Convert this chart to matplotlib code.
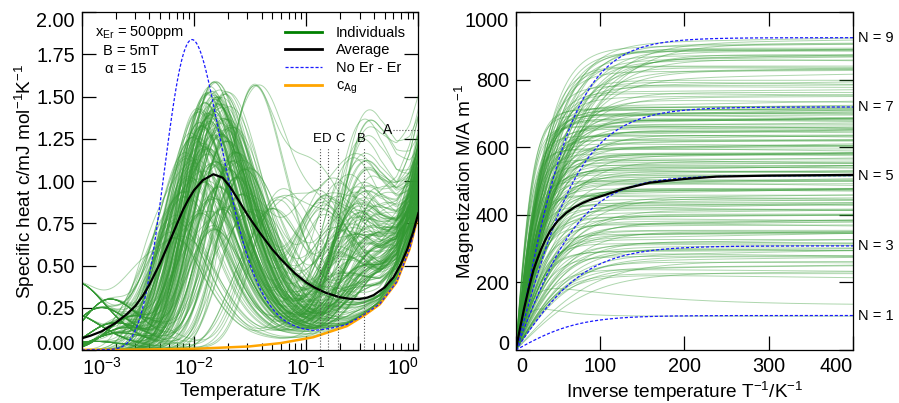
import numpy as np
import matplotlib.pyplot as plt
from matplotlib.lines import Line2D
from matplotlib.ticker import FixedLocator, LogLocator, NullFormatter
import matplotlib.transforms as mtransforms

plt.rcParams['font.family'] = ['Liberation Sans', 'DejaVu Sans']
plt.rcParams['mathtext.fontset'] = 'custom'
plt.rcParams['mathtext.rm'] = 'Liberation Sans'
plt.rcParams['mathtext.it'] = 'Liberation Sans:italic'
plt.rcParams['mathtext.default'] = 'regular'

# ---------------- left panel data (specific heat) ----------------
# silver background c_Ag
ag_T = [1e-3, 3e-3, 0.01, 0.03, 0.0583, 0.115, 0.229, 0.322, 0.453, 0.638, 0.838, 1.0]
ag_c = [0.0007, 0.002, 0.007, 0.02, 0.04, 0.075, 0.14, 0.2, 0.27, 0.4, 0.6, 0.8]

# "No Er - Er" : single two-level peak (position, height) on top of c_Ag
noer_peak_T = 0.0096
noer_peak_c = 1.83

# average curve
avg_T = [1.0e-3, 1.2e-3, 1.5e-3, 2e-3, 2.5e-3, 3e-3, 3.5e-3, 4e-3, 5e-3, 6e-3, 7e-3, 8e-3,
         9e-3, 0.010, 0.012, 0.0149, 0.018, 0.021, 0.025, 0.03, 0.035, 0.04, 0.05, 0.06,
         0.07, 0.08, 0.1, 0.12, 0.15, 0.2, 0.25, 0.3, 0.35, 0.4, 0.5, 0.6, 0.7, 0.8, 0.9, 1.0]
avg_c = [0.069, 0.085, 0.11, 0.16, 0.21, 0.26, 0.32, 0.385, 0.515, 0.635, 0.74, 0.83,
         0.895, 0.945, 1.005, 1.04, 1.02, 0.965, 0.885, 0.80, 0.735, 0.68, 0.595, 0.535,
         0.49, 0.452, 0.40, 0.368, 0.338, 0.312, 0.302, 0.302, 0.31, 0.325, 0.37, 0.43,
         0.51, 0.6, 0.7, 0.81]

# individuals: main peak positions / heights, peak broadening
main_tp = [0.0125, 0.0140, 0.0150, 0.0135, 0.0160, 0.0118, 0.0170, 0.0145, 0.0110, 0.0180,
           0.0130, 0.0155, 0.0100, 0.0190, 0.0205, 0.0120, 0.0165, 0.0090, 0.0220, 0.0140,
           0.0080, 0.0240, 0.0115, 0.0175, 0.0070, 0.0260, 0.0340, 0.0150, 0.0065, 0.0300,
           0.0280, 0.0128, 0.0148, 0.0138, 0.0158, 0.0108, 0.0185, 0.0095, 0.0200, 0.0560,
           0.0132, 0.0162, 0.0122, 0.0172, 0.0143, 0.0085, 0.0230, 0.0480, 0.0112, 0.0152]
main_h = [1.45, 1.52, 1.57, 1.38, 1.48, 1.30, 1.42, 1.25, 1.20, 1.35,
          1.15, 1.10, 1.05, 1.22, 1.30, 0.98, 0.95, 1.00, 1.10, 0.88,
          0.90, 1.00, 0.80, 0.82, 0.75, 0.90, 1.54, 0.70, 0.65, 0.80,
          1.05, 1.50, 1.40, 1.33, 1.28, 1.40, 1.50, 1.25, 1.05, 0.85,
          1.36, 1.44, 1.18, 1.26, 1.08, 1.12, 1.15, 0.80, 1.32, 1.47]
main_w = [1.0, 1.15, 1.3, 1.08, 1.45, 1.2, 1.05, 1.6, 1.1, 1.35, 1.25]
# low temperature shoulder
low_tp = [0.0008, 0.0012, 0.0015, 0.0020, 0.0010, 0.0025, 0.0018, 0.0006, 0.0030, 0.0013, 0.0040, 0.0009, 0.0022]
low_h = [0.22, 0.00, 0.25, 0.16, 0.00, 0.13, 0.30, 0.00, 0.20, 0.05, 0.00, 0.40, 0.10]
# bumps between 0.1 K and 0.5 K
high_tp = [0.10, 0.20, 0.15, 0.25, 0.12, 0.30, 0.14, 0.35, 0.20, 0.18, 0.33, 0.09, 0.25, 0.28, 0.40, 0.10, 0.22]
high_h = [0.00, 0.30, 0.00, 0.50, 0.15, 0.00, 0.70, 0.25, 0.00, 0.45, 0.85, 0.10, 0.00, 0.60, 0.35, 0.00, 0.20]
mid_tp = [0.40, 0.22, 0.42, 0.3, 0.16, 0.45, 0.38, 0.26, 0.36, 0.19, 0.42, 0.3, 0.33, 0.24, 0.44, 0.28, 0.36, 0.45, 0.2]
mid_h = [0.25, 0.00, 0.30, 0.15, 0.00, 0.20, 0.35, 0.00, 0.20, 0.10, 0.30, 0.00, 0.45, 0.05, 0.00, 0.30, 0.20, 0.00, 0.40]
# extra rise near 1 K
edge_h = [0.00, 0.10, 0.25, 0.00, 0.45, 0.15, 0.05]
n_left = 200

# marker lines E D C B and A
mark_T = [0.134, 0.157, 0.193, 0.326]
mark_lab = ['E', 'D', 'C', 'B']
mark_lab_T = [0.1259, 0.1525, 0.2018, 0.313]

# ---------------- right panel data (magnetization) ----------------
n_labels = [1, 3, 5, 7, 9]
n_sat = [102, 308, 516, 719, 924]
n_x0 = [75, 85, 80, 80, 72]

avg_x = [0, 5, 10, 15, 20.9, 25, 30, 35, 40.7, 50, 60, 70, 80, 88, 100, 125, 159, 200, 238, 300, 400]
avg_M = [0, 64, 124, 178, 236, 265, 298, 325, 352, 383, 406, 423, 436, 444, 454, 475, 495, 506, 513, 516, 518]

sat = [905, 893, 880, 868, 855, 840, 822, 798, 781, 762, 745, 718, 712, 706, 699,
       692, 684, 676, 668, 660, 651, 642, 633, 622, 612, 601, 592, 583, 574, 565,
       556, 546, 536, 527, 518, 508, 499, 489, 478, 468, 458, 447, 436, 425, 414,
       402, 391, 379, 367, 354, 340, 327, 314, 302, 290, 276, 262, 241, 226]
sat_x0 = [62, 58, 60, 55, 57, 52, 50, 48, 45, 47, 42, 36, 30, 40, 33,
          28, 38, 31, 44, 27, 35, 41, 29, 37, 32, 43, 26, 34, 39, 30,
          45, 28, 36, 41, 33, 38, 29, 46, 35, 40, 31, 48, 37, 34, 50,
          42, 36, 55, 39, 47, 44, 52, 38, 60, 45, 50, 65, 58, 70]
x0_mult = [1.0, 0.75, 1.3, 0.9, 1.15, 0.8, 1.45]
drift = [0, 12, -8, 5, 18, -4, 8, -12, 3, 0, 10]
n_right = 180
# curves that overshoot and relax
os_a = [201, 150]
os_x0 = [20, 15]
os_b = [68, 50]
os_x1 = [200, 60]


def schottky(T, tp):
    x = 2.3994 * tp / T
    e = np.exp(-x)
    return x ** 2 * e / (1 + e) ** 2 / 0.43922


T = np.logspace(-3, 0, 500)
cag = np.interp(np.log10(T), np.log10(ag_T), ag_c)

fig = plt.figure(figsize=(8.99, 4.03), dpi=100)
ax1 = fig.add_axes([0.0909, 0.1315, 0.3745, 0.8387])
ax2 = fig.add_axes([0.5737, 0.1315, 0.3752, 0.8387])

green = '#339933'
for i in range(n_left):
    tp = main_tp[i % len(main_tp)]
    w = main_w[i % len(main_w)]
    shape = schottky(T, tp / w) + schottky(T, tp * w)
    main = main_h[i % len(main_h)] * shape / shape.max()
    c = cag + main
    c = c + low_h[i % len(low_h)] * schottky(T, low_tp[i % len(low_tp)])
    c = c + high_h[i % len(high_h)] * schottky(T, high_tp[i % len(high_tp)])
    c = c + mid_h[i % len(mid_h)] * schottky(T, mid_tp[i % len(mid_tp)])
    c = c + edge_h[i % len(edge_h)] * schottky(T, 1.5)
    ax1.plot(T, c, color=green, lw=0.7, alpha=0.4)

ax1.plot(T, cag, color='orange', lw=1.8)
ax1.plot(T, noer_peak_c * schottky(T, noer_peak_T) + cag, color='#1a1aff', lw=0.9,
         dashes=(2.5, 1.5))
ax1.plot(avg_T, avg_c, color='black', lw=1.6)

for t, tl, lab in zip(mark_T, mark_lab_T, mark_lab):
    ax1.plot([t, t], [0, 1.2], color='#555555', lw=0.8, ls=':')
    ax1.text(tl, 1.25, lab, ha='center', va='center', fontsize=9.5)
ax1.plot([0.6, 1.0], [1.30, 1.30], color='#555555', lw=0.8, ls=':')
ax1.text(0.58, 1.30, 'A', ha='right', va='center', fontsize=10)

ax1.set_xscale('log')
ax1.set_xlim(1e-3, 1.0)
ax1.set_ylim(0, 2.0)
ax1.yaxis.set_major_locator(FixedLocator(np.arange(0, 2.01, 0.25)))
ax1.set_yticklabels(['%.2f' % v for v in np.arange(0, 2.01, 0.25)])
ax1.set_xticks([1e-3, 1e-2, 1e-1, 1])
ax1.set_xticklabels(['$10^{-3}$', '$10^{-2}$', '$10^{-1}$', '$10^{0}$'])
ax1.xaxis.set_minor_locator(LogLocator(base=10, subs=np.arange(2, 10), numticks=20))
ax1.xaxis.set_minor_formatter(NullFormatter())
ax1.set_xlabel('Temperature T/K', fontsize=13.7)
ax1.set_ylabel('Specific heat c/mJ mol$^{-1}$K$^{-1}$', fontsize=13.7)

ax1.text(0.04, 0.94, 'x$_{Er}$ = 500ppm', transform=ax1.transAxes, fontsize=10.5, va='center')
ax1.text(0.063, 0.886, 'B = 5mT', transform=ax1.transAxes, fontsize=10.5, va='center')
ax1.text(0.069, 0.832, 'α = 15', transform=ax1.transAxes, fontsize=10.5, va='center')

handles = [Line2D([], [], color='green', lw=2),
           Line2D([], [], color='black', lw=2),
           Line2D([], [], color='#1a1aff', lw=0.9, dashes=(2.5, 1.5)),
           Line2D([], [], color='orange', lw=2)]
ax1.legend(handles, ['Individuals', 'Average', 'No Er - Er', 'c$_{Ag}$'], loc='upper right',
           bbox_to_anchor=(0.988, 0.985),
           frameon=False, fontsize=10.5, handlelength=2.6, labelspacing=0.25,
           borderaxespad=0.2, handletextpad=0.9)

# ---------------- right panel ----------------
x = np.linspace(0, 400, 400)
for i in range(n_right):
    ms = sat[i % len(sat)]
    x0 = sat_x0[i % len(sat)] * x0_mult[i % len(x0_mult)]
    m = ms * np.tanh(x / x0) + drift[i % len(drift)] * x / 400
    ax2.plot(x, m, color=green, lw=0.7, alpha=0.4)
for a, x0, b, x1 in zip(os_a, os_x0, os_b, os_x1):
    ax2.plot(x, a * np.tanh(x / x0) - b * np.tanh(x / x1), color=green, lw=0.7, alpha=0.4)

for ms, x0 in zip(n_sat, n_x0):
    ax2.plot(x, ms * np.tanh(x / x0), color='#1a1aff', lw=0.9, dashes=(2.5, 1.5))
ax2.plot(avg_x, avg_M, color='black', lw=1.6)

trans = mtransforms.blended_transform_factory(ax2.transAxes, ax2.transData)
for n, ms in zip(n_labels, n_sat):
    ax2.text(1.015, ms, 'N = %d' % n, transform=trans, fontsize=10.5, va='center', ha='left')

ax2.set_xlim(0, 400)
ax2.set_ylim(0, 1000)
ax2.set_xticks([0, 100, 200, 300, 400])
ax2.set_yticks([0, 200, 400, 600, 800, 1000])
ax2.set_xlabel('Inverse temperature T$^{-1}$/K$^{-1}$', fontsize=13.7)
ax2.set_ylabel('Magnetization M/A m$^{-1}$', fontsize=13.7)

for ax in (ax1, ax2):
    ax.tick_params(which='major', direction='in', length=10, width=0.9, top=True, right=True,
                   labelsize=14.3, pad=5)
    ax.tick_params(which='minor', direction='in', length=5, width=0.8, top=True, right=True)
    for s in ax.spines.values():
        s.set_linewidth(0.9)
    # end labels pulled inside like the original
    xl = ax.get_xticklabels()
    xl[0].set_ha('left')
    xl[-1].set_ha('right')
    yl = ax.get_yticklabels()
    yl[0].set_va('baseline')
    yl[-1].set_va('top')
    ax.xaxis.label.set_va('center')
    ax.yaxis.label.set_va('center')

ax1.xaxis.set_label_coords(0.5, -0.123)
ax2.xaxis.set_label_coords(0.5, -0.123)
ax1.yaxis.set_label_coords(-0.170, 0.5)
ax2.yaxis.set_label_coords(-0.152, 0.5)

fig.savefig('out.png', dpi=100)
